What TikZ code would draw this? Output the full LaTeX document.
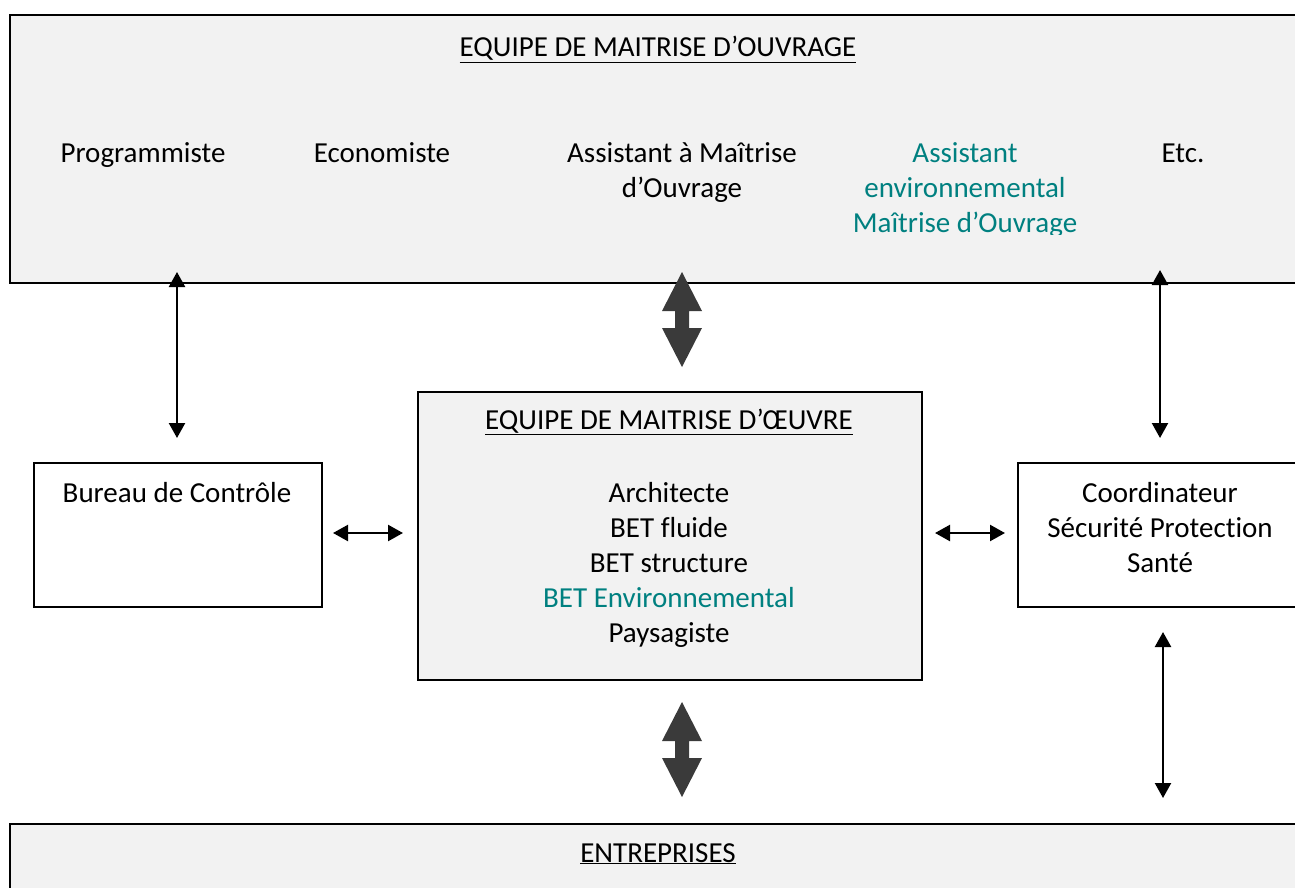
\documentclass[tikz,border=0pt]{standalone}
\usepackage{fontspec}
\setmainfont{Carlito}[Ligatures=NoCommon]
\usetikzlibrary{arrows.meta}
\definecolor{boxgray}{RGB}{242,242,242}
\definecolor{tealtext}{RGB}{0,128,128}
\definecolor{fatgray}{RGB}{58,58,58}
\begin{document}
\begin{tikzpicture}[x=1pt,y=-1pt,
  frame/.style={draw=black, line width=2pt, inner sep=0pt, anchor=north west},
  lbl/.style={inner sep=0pt, font=\fontsize{29}{35}\selectfont, align=center, anchor=base},
  thinarrow/.style={line width=2.3pt, {Triangle[length=15pt,width=16pt]}-{Triangle[length=15pt,width=16pt]}},
  fatarrow/.style={fill=fatgray}
]
\useasboundingbox (0,0) rectangle (1295,888);
\begin{scope}
\clip (0,0) rectangle (1295,888);
% boxes
\node[frame, fill=boxgray, minimum width=1291pt, minimum height=268pt] (moa) at (9,14) {};
\node[frame, fill=boxgray, minimum width=504pt, minimum height=288pt] (moe) at (417,391) {};
\node[frame, fill=white, minimum width=288pt, minimum height=144pt] (bc) at (33,462) {};
\node[frame, fill=white, minimum width=283pt, minimum height=144pt] (csps) at (1017,462) {};
\node[frame, fill=boxgray, minimum width=1291pt, minimum height=100pt] (ent) at (9,823) {};
\end{scope}
% labels (base anchor = baseline of the last line)
\node[lbl] (tmoa) at (658,57) {\underline{EQUIPE DE MAITRISE D’OUVRAGE}};
\node[lbl] (prog) at (143,162) {Programmiste};
\node[lbl] (eco) at (382,162) {Economiste};
\node[lbl] (amo) at (682,197) {Assistant à Maîtrise\\d’Ouvrage};
\begin{scope}
\clip (840,100) rectangle (1100,234);
\node[lbl, text=tealtext] (aemo) at (965,232) {Assistant\\environnemental\\Maîtrise d’Ouvrage};
\end{scope}
\node[lbl] (etc) at (1183,162) {Etc.};
\node[lbl] (tmoe) at (669,429) {\underline{EQUIPE DE MAITRISE D’ŒUVRE}};
\node[lbl] (lmoe) at (669,642) {Architecte\\BET fluide\\BET structure\\\textcolor{tealtext}{BET Environnemental}\\Paysagiste};
\node[lbl] (tbc) at (177,502) {Bureau de Contrôle};
\node[lbl] (tcsps) at (1160,572) {Coordinateur\\Sécurité Protection\\Santé};
\node[lbl] (tent) at (658,862) {\underline{ENTREPRISES}};
% thin arrows
\coordinate (a1) at (177,272); \coordinate (a2) at (177,438);
\coordinate (b1) at (1160,270); \coordinate (b2) at (1160,438);
\coordinate (c1) at (1163,632); \coordinate (c2) at (1163,798);
\coordinate (d1) at (333,533); \coordinate (d2) at (403,533);
\coordinate (e1) at (935,533); \coordinate (e2) at (1005,533);
\draw[thinarrow] (a1) -- (a2);
\draw[thinarrow] (b1) -- (b2);
\draw[thinarrow] (c1) -- (c2);
\draw[thinarrow] (d1) -- (d2);
\draw[thinarrow] (e1) -- (e2);
% fat arrows
\foreach \o in {0,430}{
\fill[fatarrow] (682,272+\o) -- (702,311+\o) -- (689,311+\o) -- (689,328+\o) -- (702,328+\o) -- (682,367+\o) -- (662,328+\o) -- (675,328+\o) -- (675,311+\o) -- (662,311+\o) -- cycle;
}
\end{tikzpicture}
\end{document}
